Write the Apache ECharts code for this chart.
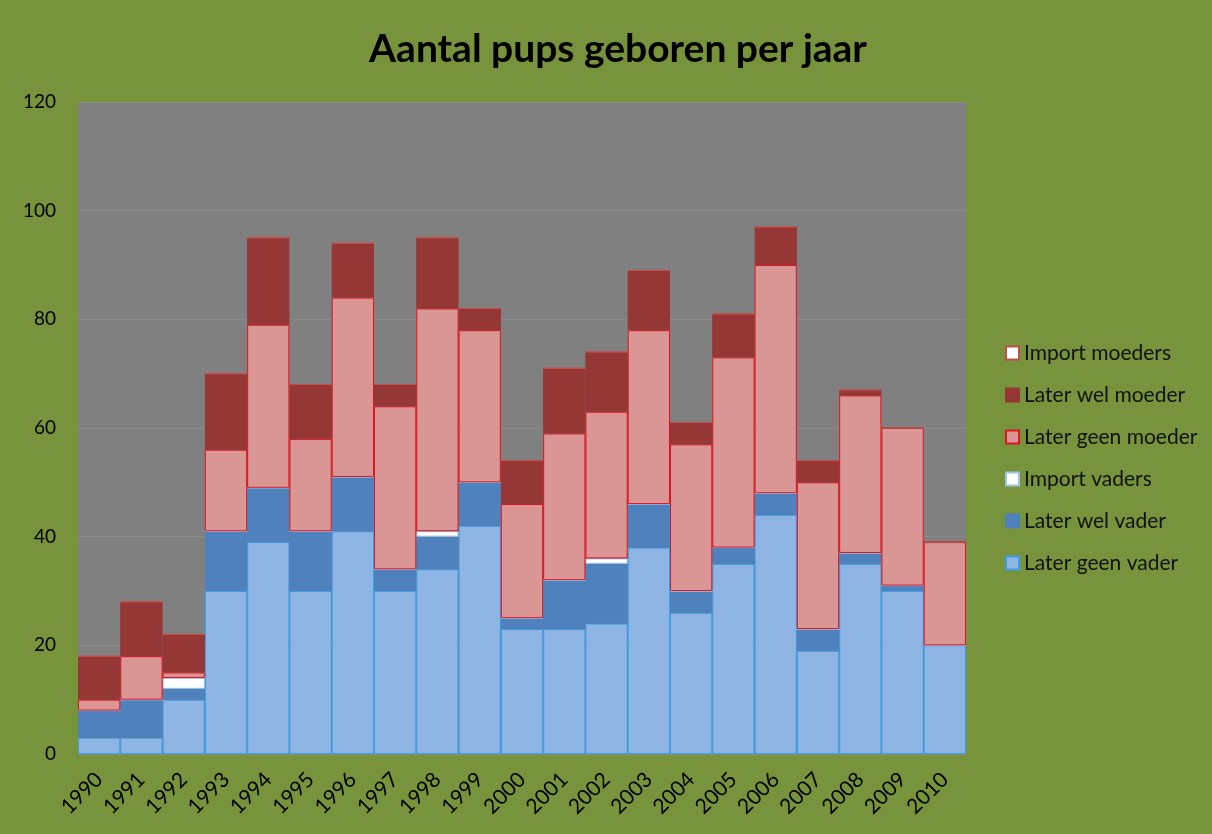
<!DOCTYPE html>
<html>
<head>
<meta charset="utf-8">
<script src="https://cdn.jsdelivr.net/npm/echarts@6/dist/echarts.min.js"></script>
<style>html,body{margin:0;padding:0;background:#77933C;}#c{width:1212px;height:834px;}</style>
</head>
<body>
<div id="c"></div>
<script>
const years = ['1990','1991','1992','1993','1994','1995','1996','1997','1998','1999','2000','2001','2002','2003','2004','2005','2006','2007','2008','2009','2010'];
const laterGeenVader = [3,3,10,30,39,30,41,30,34,42,23,23,24,38,26,35,44,19,35,30,20];
const laterWelVader  = [5,7,2,11,10,11,10,4,6,8,2,9,11,8,4,3,4,4,2,1,0];
const importVaders   = [0,0,2,0,0,0,0,0,1,0,0,0,1,0,0,0,0,0,0,0,0];
const laterGeenMoeder= [2,8,1,15,30,17,33,30,41,28,21,27,27,32,27,35,42,27,29,29,19];
const laterWelMoeder = [8,10,7,14,16,10,10,4,13,4,8,12,11,11,4,8,7,4,1,0,0];
const importMoeders  = [0,0,0,0,0,0,0,0,0,0,0,0,0,0,0,0,0,0,0,0,0];
const yTicks = [0,20,40,60,80,100,120];

const chart = echarts.init(document.getElementById('c'));
function s(name, data, color, border, bw) {
  return {
    name, type: 'bar', stack: 'all', data,
    barCategoryGap: '0%',
    itemStyle: { color, borderColor: border, borderWidth: bw },
    emphasis: { disabled: true }
  };
}
chart.setOption({
  backgroundColor: '#77933C',
  animation: false,
  title: {
    text: 'Aantal pups geboren per jaar',
    left: 364, top: 25,
    textStyle: { fontFamily: 'Lato', fontWeight: 'bold', fontSize: 39, color: '#000' }
  },
  grid: { left: 78, right: 246, top: 102, bottom: 80, backgroundColor: '#808080', show: true, borderWidth: 0, outerBoundsMode: 'none' },
  legend: {
    orient: 'vertical', left: 1000, top: 337, itemGap: 20, itemWidth: 13, itemHeight: 13,
    icon: 'rect',
    textStyle: { fontFamily: 'Lato', fontSize: 21, lineHeight: 22, color: '#111' },
    data: ['Import moeders','Later wel moeder','Later geen moeder','Import vaders','Later wel vader','Later geen vader']
  },
  xAxis: {
    type: 'category', data: years,
    axisLine: { show: false },
    axisTick: { show: false },
    axisLabel: { rotate: 45, fontFamily: 'Lato', fontSize: 21, color: '#000', margin: 22, interval: 0, padding: [0, 0, 0, 0] }
  },
  yAxis: {
    type: 'value', min: 0, max: 120, interval: 20,
    axisLine: { show: false }, axisTick: { show: false },
    splitLine: { show: true, lineStyle: { color: '#8a8a8a', width: 1 } },
    axisLabel: { fontFamily: 'Lato', fontSize: 19, color: '#000', margin: 22,
      formatter: v => yTicks.includes(v) ? String(v) : '' }
  },
  series: [
    s('Later geen vader', laterGeenVader, '#8EB4E3', '#3C9EE6', 1),
    s('Later wel vader', laterWelVader, '#4F81BD', '#4F81BD', 1),
    s('Import vaders', importVaders, '#FFFFFF', '#9DC3E6', 1),
    s('Later geen moeder', laterGeenMoeder, '#D99694', '#E0141E', 1),
    s('Later wel moeder', laterWelMoeder, '#953735', '#953735', 1),
    s('Import moeders', importMoeders, '#FFFFFF', '#C0504D', 1)
  ]
});
</script>
</body>
</html>
